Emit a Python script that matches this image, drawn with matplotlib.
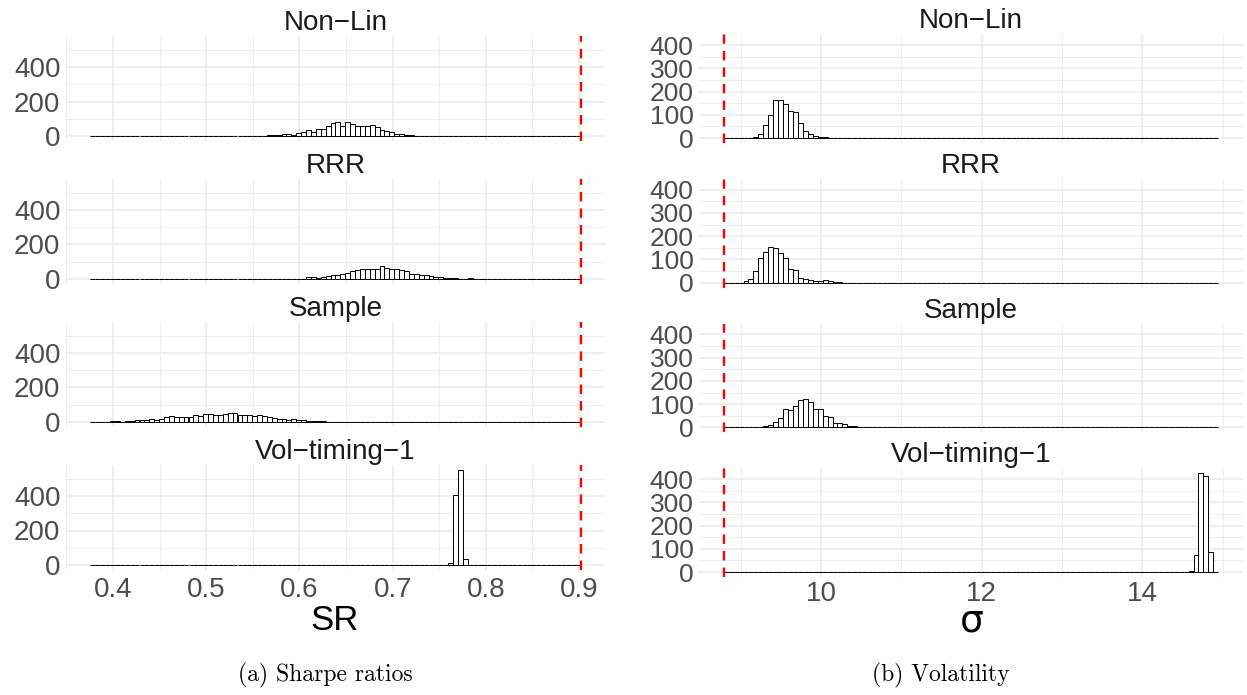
import numpy as np
import matplotlib
matplotlib.use("Agg")
import matplotlib.pyplot as plt
from matplotlib.ticker import FixedLocator

plt.rcParams["mathtext.fontset"] = "custom"
plt.rcParams["mathtext.rm"] = "Liberation Sans"
plt.rcParams["mathtext.it"] = "Liberation Sans"

# ---------------- data ----------------
facets = ["Non\u2212Lin", "RRR", "Sample", "Vol\u2212timing\u22121"]
n_bins = 100

# Sharpe ratio histograms (bin range, benchmark line)
sr_range = (0.3758, 0.9015)
sr_vline = 0.9015
sr_nonlin_start = 34
sr_nonlin = [2, 2, 3, 3, 5, 10, 10, 8, 16, 24, 34, 24, 40, 42, 56, 74, 80, 60, 84, 72,
             60, 60, 56, 64, 52, 32, 28, 22, 12, 10, 6, 3, 2]
sr_rrr_start = 40
sr_rrr = [1, 1, 2, 2, 10, 10, 8, 10, 18, 26, 22, 30, 36, 46, 50, 56, 60, 60, 58, 78,
          66, 58, 56, 52, 46, 30, 30, 26, 24, 16, 10, 10, 6, 4, 4, 2, 2, 6, 2, 1, 1]
sr_sample_start = 0
sr_sample = [2, 2, 2, 2, 4, 4, 2, 8, 6, 12, 10, 14, 19, 10, 19, 29, 35, 31, 31, 31,
             31, 42, 35, 44, 48, 42, 42, 46, 54, 52, 42, 40, 38, 33, 38, 33, 29, 23, 19, 15,
             13, 19, 12, 10, 8, 6, 6, 4, 2, 2]
sr_vol_start = 73
sr_vol = [10, 406, 550, 33]

# Volatility histograms
vol_range = (8.79, 14.945)
vol_vline = 8.79
vol_nonlin_start = 6
vol_nonlin = [3, 18, 57, 100, 162, 165, 148, 118, 110, 65, 31, 18, 10, 4, 3]
vol_rrr_start = 4
vol_rrr = [6, 18, 51, 107, 133, 152, 148, 127, 107, 58, 55, 22, 18, 13, 7, 6, 10, 6, 3, 3]
vol_sample_start = 7
vol_sample = [3, 6, 10, 22, 41, 78, 73, 92, 118, 123, 108, 81, 77, 49, 44, 19, 19, 13, 4, 7, 3, 3]
vol_vol_start = 94
vol_vol = [3, 74, 425, 412, 87, 2]

sr_xticks = [0.4, 0.5, 0.6, 0.7, 0.8, 0.9]
sr_xticklabels = ["0.4", "0.5", "0.6", "0.7", "0.8", "0.9"]
sr_yticks = [0, 200, 400]
vol_xticks = [10, 12, 14]
vol_yticks = [0, 100, 200, 300, 400]

captions = ["(a) Sharpe ratios", "(b) Volatility"]
xtitles = ["SR", "$\\mathregular{\u03c3}$"]

# ---------------- figure ----------------
W, H = 1247, 695
fig = plt.figure(figsize=(W / 100, H / 100), dpi=100)
fig.patch.set_facecolor("white")
SANS = ["Liberation Sans", "DejaVu Sans"]
GRID = "#EBEBEB"


def rect(x0, y0, x1, y1):
    return [x0 / W, 1 - y1 / H, (x1 - x0) / W, (y1 - y0) / H]


def full_counts(start, counts):
    c = np.zeros(n_bins)
    c[start:start + len(counts)] = counts
    return c


def panel(ax, rng, vline, start, counts, xlim, ylim, xticks, xminor, yticks, yminor,
          show_x, xticklabels, ysize, xpad):
    edges = np.linspace(rng[0], rng[1], n_bins + 1)
    c = full_counts(start, counts)
    ax.set_xlim(*xlim)
    ax.set_ylim(*ylim)
    for s in ax.spines.values():
        s.set_visible(False)
    ax.xaxis.set_major_locator(FixedLocator(xticks))
    ax.xaxis.set_minor_locator(FixedLocator(xminor))
    ax.yaxis.set_major_locator(FixedLocator(yticks))
    ax.yaxis.set_minor_locator(FixedLocator(yminor))
    ax.grid(True, which="major", color=GRID, lw=1.1)
    ax.grid(True, which="minor", color=GRID, lw=0.6)
    ax.set_axisbelow(True)
    ax.bar(edges[:-1], c, width=np.diff(edges), align="edge", facecolor="white",
           edgecolor="black", lw=0.7, zorder=2)
    ax.axvline(vline, color="#FF0000", lw=1.7, ls=(0, (4, 3)), zorder=3)
    ax.tick_params(which="both", length=0)
    ax.tick_params(axis="y", labelsize=ysize, labelcolor="#4D4D4D", pad=4)
    ax.set_yticklabels([str(v) for v in yticks], fontfamily=SANS)
    if show_x:
        ax.tick_params(axis="x", labelsize=20, labelcolor="#4D4D4D", pad=xpad)
        ax.set_xticklabels(xticklabels, fontfamily=SANS)
    else:
        ax.set_xticklabels([])


sr_data = [(sr_nonlin_start, sr_nonlin), (sr_rrr_start, sr_rrr),
           (sr_sample_start, sr_sample), (sr_vol_start, sr_vol)]
vol_data = [(vol_nonlin_start, vol_nonlin), (vol_rrr_start, vol_rrr),
            (vol_sample_start, vol_sample), (vol_vol_start, vol_vol)]

sr_w = sr_range[1] - sr_range[0]
sr_xlim = (sr_range[0] - 0.05 * sr_w, sr_range[1] + 0.05 * sr_w)
sr_ylim = (-27.5, 577.5)
vol_w = vol_range[1] - vol_range[0]
vol_xlim = (vol_range[0] - 0.05 * vol_w, vol_range[1] + 0.05 * vol_w)
vol_ylim = (-21.25, 446.25)

for i, name in enumerate(facets):
    # left
    z = 136 + 143 * i
    ax = fig.add_axes(rect(66, z - 577.5 * 0.1725, 605, z + 27.5 * 0.1725))
    st, cnt = sr_data[i]
    panel(ax, sr_range, sr_vline, st, cnt, sr_xlim, sr_ylim, sr_xticks,
          [0.35, 0.45, 0.55, 0.65, 0.75, 0.85], sr_yticks, [100, 300, 500],
          i == 3, sr_xticklabels, 20, 5)
    ax.set_title(name, fontsize=20, color="#1A1A1A", fontfamily=SANS, pad=3)
    # right
    z = 138 + 144.7 * i
    ax = fig.add_axes(rect(699, z - 446.25 * 0.2325, 1243, z + 21.25 * 0.2325))
    st, cnt = vol_data[i]
    panel(ax, vol_range, vol_vline, st, cnt, vol_xlim, vol_ylim, vol_xticks,
          [9, 11, 13, 15], vol_yticks, [50, 150, 250, 350, 450],
          i == 3, [str(v) for v in vol_xticks], 19, 3)
    ax.set_title(name, fontsize=20, color="#1A1A1A", fontfamily=SANS, pad=3)

fig.text(335 / W, 1 - 620 / H, xtitles[0], ha="center", va="center", fontsize=25,
         fontfamily=SANS, color="black")
fig.text(971 / W, 1 - 632 / H, xtitles[1], ha="center", va="baseline", fontsize=27,
         color="black")

fig.text(325 / W, 1 - 675 / H, captions[0], ha="center", va="center", fontsize=17,
         fontfamily="cmr10")
fig.text(941 / W, 1 - 675 / H, captions[1], ha="center", va="center", fontsize=17,
         fontfamily="cmr10")

fig.savefig("out.png", dpi=100, facecolor="white")
